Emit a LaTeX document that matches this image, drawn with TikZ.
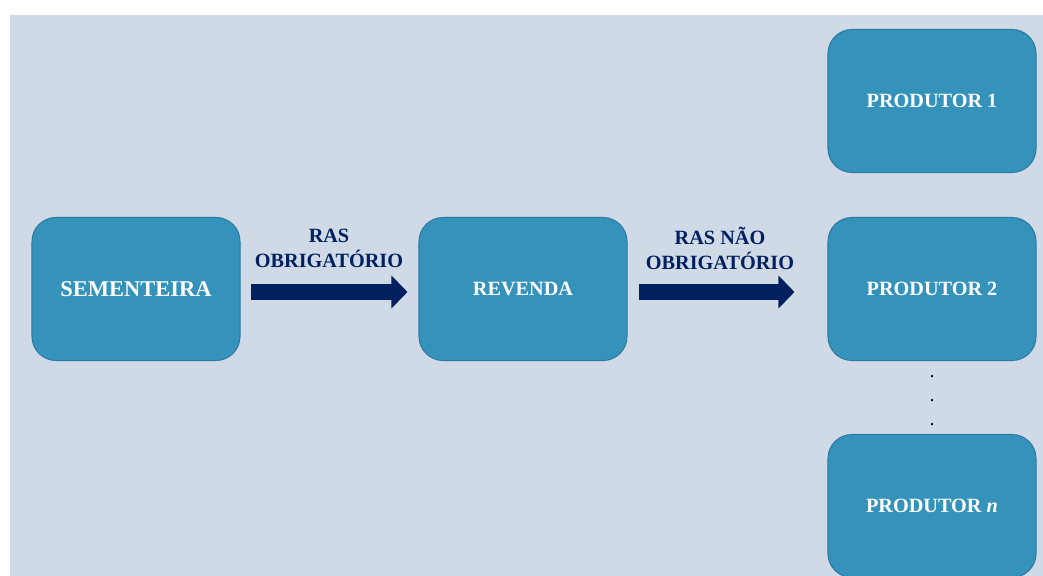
\documentclass[tikz,border=0pt]{standalone}
\usepackage{fontspec}
\setmainfont{Liberation Serif}
\usetikzlibrary{arrows.meta}
\definecolor{fundo}{HTML}{CFDAE6}
\definecolor{corcaixa}{HTML}{3593BB}
\definecolor{bordacaixa}{HTML}{2B78A0}
\definecolor{corseta}{HTML}{002060}
\begin{document}
\begin{tikzpicture}[x = 0.025cm, y = -0.025cm,
  caixa/.style = {rectangle, rounded corners = 0.6cm, draw = bordacaixa, line width = 0.7pt,
    fill = corcaixa, minimum width = 5.2cm, minimum height = 3.575cm, text = white,
    font = \bfseries\fontsize{14.4}{17}\selectfont},
  seta/.style = {draw = corseta, line width = 0.4cm, -{Triangle[length = 0.4cm, width = 0.8cm]}},
  rotulo/.style = {align = center, text = corseta, font = \bfseries\fontsize{14.4}{17.7}\selectfont}]
  \useasboundingbox (0, 0) rectangle (1043, 576);
  \fill[fundo] (10, 15) rectangle (1043, 576);
  \node[caixa, font = \bfseries\fontsize{16}{19}\selectfont] (sem) at (136, 289) {SEMENTEIRA};
  \node[caixa] (rev) at (523, 289) {REVENDA};
  \foreach \i/\y/\t in {1/101/1, 2/289/2, n/506/\textit{n}} {
    \node[caixa] (p\i) at (932, \y) {PRODUTOR \t};
  }
  \foreach \y in {376, 400, 424} {
    \fill (932, \y) circle (0.9pt);
  }
  \draw[seta, shorten <= 0.25cm, shorten >= 0.275cm] ([yshift = -0.075cm]sem.east) -- ([yshift = -0.075cm]rev.west);
  \draw[seta, shorten <= 0.275cm, shorten >= 0.825cm] ([yshift = -0.075cm]rev.east) -- ([yshift = -0.075cm]p2.west);
  \node[rotulo] (r1) at (329, 248.5) {RAS\\OBRIGATÓRIO};
  \node[rotulo] (r2) at (720, 248.5) {RAS NÃO\\OBRIGATÓRIO};
\end{tikzpicture}
\end{document}
